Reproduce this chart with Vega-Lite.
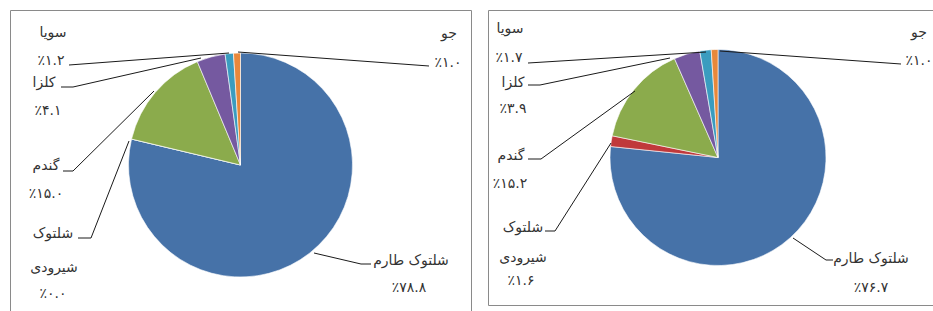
{
  "$schema": "https://vega.github.io/schema/vega-lite/v6.json",
  "padding": {"left": 9, "top": 9, "right": 0, "bottom": 0},
  "spacing": 15,
  "background": "white",
  "config": {
    "view": {"stroke": "#8a8a8a", "strokeWidth": 1},
    "text": {"font": "DejaVu Sans", "fontSize": 14, "color": "#333333"}
  },
  "datasets": {
    "slicesL": [
      {"crop": "شلتوک طارم", "pct": 78.8, "ord": 1},
      {"crop": "شلتوک شیرودی", "pct": 0.0, "ord": 2},
      {"crop": "گندم", "pct": 15.0, "ord": 3},
      {"crop": "کلزا", "pct": 4.1, "ord": 4},
      {"crop": "سویا", "pct": 1.2, "ord": 5},
      {"crop": "جو", "pct": 1.0, "ord": 6}
    ],
    "slicesR": [
      {"crop": "شلتوک طارم", "pct": 76.7, "ord": 1},
      {"crop": "شلتوک شیرودی", "pct": 1.6, "ord": 2},
      {"crop": "گندم", "pct": 15.2, "ord": 3},
      {"crop": "کلزا", "pct": 3.9, "ord": 4},
      {"crop": "سویا", "pct": 1.7, "ord": 5},
      {"crop": "جو", "pct": 1.0, "ord": 6}
    ],
    "labelsL": [
      {"px": 43, "py": 23, "t": "سویا"},
      {"px": 41, "py": 51, "t": "٪۱.۲"},
      {"px": 34, "py": 73, "t": "کلزا"},
      {"px": 38, "py": 101, "t": "٪۴.۱"},
      {"px": 36, "py": 156, "t": "گندم"},
      {"px": 36, "py": 184, "t": "٪۱۵.۰"},
      {"px": 43, "py": 224, "t": "شلتوک"},
      {"px": 44, "py": 258, "t": "شیرودی"},
      {"px": 43, "py": 284, "t": "٪۰.۰"},
      {"px": 439, "py": 24, "t": "جو"},
      {"px": 438, "py": 53, "t": "٪۱.۰"},
      {"px": 401, "py": 251, "t": "شلتوک طارم"},
      {"px": 399, "py": 278, "t": "٪۷۸.۸"}
    ],
    "labelsR": [
      {"px": 22, "py": 19, "t": "سویا"},
      {"px": 21, "py": 48, "t": "٪۱.۷"},
      {"px": 25, "py": 73, "t": "کلزا"},
      {"px": 25, "py": 99, "t": "٪۳.۹"},
      {"px": 23, "py": 146, "t": "گندم"},
      {"px": 22, "py": 174, "t": "٪۱۵.۲"},
      {"px": 35, "py": 218, "t": "شلتوک"},
      {"px": 35, "py": 248, "t": "شیرودی"},
      {"px": 33, "py": 271, "t": "٪۱.۶"},
      {"px": 431, "py": 23, "t": "جو"},
      {"px": 431, "py": 51, "t": "٪۱.۰"},
      {"px": 383, "py": 249, "t": "شلتوک طارم"},
      {"px": 383, "py": 278, "t": "٪۷۶.۷"}
    ],
    "leadersL": [
      {"id": "soy", "s": 1, "px": 59, "py": 55}, {"id": "soy", "s": 2, "px": 219, "py": 43},
      {"id": "can", "s": 1, "px": 51, "py": 77}, {"id": "can", "s": 2, "px": 63, "py": 77}, {"id": "can", "s": 3, "px": 191, "py": 48},
      {"id": "wht", "s": 1, "px": 53, "py": 161}, {"id": "wht", "s": 2, "px": 63, "py": 161}, {"id": "wht", "s": 3, "px": 144, "py": 81},
      {"id": "shr", "s": 1, "px": 68, "py": 228}, {"id": "shr", "s": 2, "px": 81, "py": 228}, {"id": "shr", "s": 3, "px": 119, "py": 131},
      {"id": "bar", "s": 1, "px": 419, "py": 56}, {"id": "bar", "s": 2, "px": 228, "py": 42},
      {"id": "tar", "s": 1, "px": 304, "py": 243}, {"id": "tar", "s": 2, "px": 351, "py": 254}, {"id": "tar", "s": 3, "px": 361, "py": 254}
    ],
    "leadersR": [
      {"id": "soy", "s": 1, "px": 40, "py": 53}, {"id": "soy", "s": 2, "px": 218, "py": 42},
      {"id": "can", "s": 1, "px": 40, "py": 75}, {"id": "can", "s": 2, "px": 52, "py": 75}, {"id": "can", "s": 3, "px": 182, "py": 48},
      {"id": "wht", "s": 1, "px": 40, "py": 149}, {"id": "wht", "s": 2, "px": 53, "py": 149}, {"id": "wht", "s": 3, "px": 147, "py": 81},
      {"id": "shr", "s": 1, "px": 57, "py": 221}, {"id": "shr", "s": 2, "px": 67, "py": 221}, {"id": "shr", "s": 3, "px": 123, "py": 133},
      {"id": "bar", "s": 1, "px": 413, "py": 54}, {"id": "bar", "s": 2, "px": 232, "py": 41},
      {"id": "tar", "s": 1, "px": 305, "py": 228}, {"id": "tar", "s": 2, "px": 338, "py": 250}, {"id": "tar", "s": 3, "px": 345, "py": 250}
    ]
  },
  "hconcat": [
    {
      "width": 461,
      "height": 310,
      "layer": [
        {
          "data": {"name": "slicesL"},
          "mark": {"type": "arc", "outerRadius": 112, "stroke": "white", "strokeWidth": 0.6},
          "encoding": {
            "theta": {"field": "pct", "type": "quantitative", "stack": true, "scale": {"domain": [0, 100.1]}},
            "order": {"field": "ord", "type": "quantitative"},
            "color": {"field": "crop", "type": "nominal", "legend": null,
              "scale": {"domain": ["شلتوک طارم", "شلتوک شیرودی", "گندم", "کلزا", "سویا", "جو"],
                        "range": ["#4672a8", "#c0393b", "#8bab4c", "#7559a0", "#3a9cbf", "#e8883a"]}}
          }
        },
        {
          "data": {"name": "leadersL"},
          "mark": {"type": "line", "color": "#1a1a1a", "strokeWidth": 1},
          "encoding": {
            "x": {"field": "px", "type": "quantitative", "axis": null, "scale": {"domain": [0, 461]}},
            "y": {"field": "py", "type": "quantitative", "axis": null, "scale": {"domain": [0, 310], "reverse": true}},
            "detail": {"field": "id"},
            "order": {"field": "s", "type": "quantitative"}
          }
        },
        {
          "data": {"name": "labelsL"},
          "mark": {"type": "text", "align": "center", "baseline": "middle"},
          "encoding": {
            "x": {"field": "px", "type": "quantitative", "axis": null, "scale": {"domain": [0, 461]}},
            "y": {"field": "py", "type": "quantitative", "axis": null, "scale": {"domain": [0, 310], "reverse": true}},
            "text": {"field": "t"}
          }
        }
      ]
    },
    {
      "width": 460,
      "height": 295,
      "layer": [
        {
          "data": {"name": "slicesR"},
          "mark": {"type": "arc", "outerRadius": 108, "stroke": "white", "strokeWidth": 0.6},
          "encoding": {
            "theta": {"field": "pct", "type": "quantitative", "stack": true, "scale": {"domain": [0, 100.1]}},
            "order": {"field": "ord", "type": "quantitative"},
            "color": {"field": "crop", "type": "nominal", "legend": null,
              "scale": {"domain": ["شلتوک طارم", "شلتوک شیرودی", "گندم", "کلزا", "سویا", "جو"],
                        "range": ["#4672a8", "#c0393b", "#8bab4c", "#7559a0", "#3a9cbf", "#e8883a"]}}
          }
        },
        {
          "data": {"name": "leadersR"},
          "mark": {"type": "line", "color": "#1a1a1a", "strokeWidth": 1},
          "encoding": {
            "x": {"field": "px", "type": "quantitative", "axis": null, "scale": {"domain": [0, 460]}},
            "y": {"field": "py", "type": "quantitative", "axis": null, "scale": {"domain": [0, 295], "reverse": true}},
            "detail": {"field": "id"},
            "order": {"field": "s", "type": "quantitative"}
          }
        },
        {
          "data": {"name": "labelsR"},
          "mark": {"type": "text", "align": "center", "baseline": "middle"},
          "encoding": {
            "x": {"field": "px", "type": "quantitative", "axis": null, "scale": {"domain": [0, 460]}},
            "y": {"field": "py", "type": "quantitative", "axis": null, "scale": {"domain": [0, 295], "reverse": true}},
            "text": {"field": "t"}
          }
        }
      ]
    }
  ]
}
